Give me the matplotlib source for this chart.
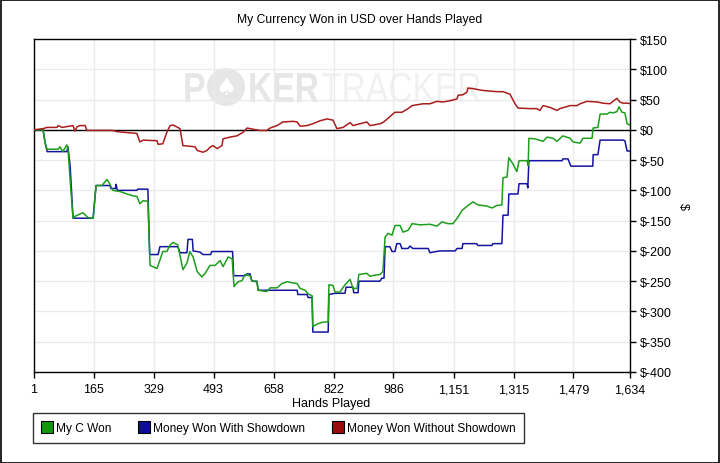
import matplotlib
matplotlib.use("Agg")
import matplotlib.pyplot as plt
from matplotlib.lines import Line2D
from matplotlib.patches import Rectangle, PathPatch, Circle
from matplotlib.textpath import TextPath
from matplotlib.font_manager import FontProperties
from matplotlib.transforms import Affine2D

plt.rcParams['font.family'] = ['Liberation Sans', 'DejaVu Sans']

# data (hands played -> cumulative $)
green_hands = [1, 26, 31, 37, 39, 67, 72, 80, 91, 94,
               102, 108, 113, 127, 135, 149, 163, 171, 187, 201,
               209, 217, 237, 256, 272, 283, 291, 300, 313, 319,
               338, 341, 354, 365, 374, 382, 395, 409, 420, 428,
               437, 448, 461, 470, 483, 497, 511, 519, 533, 544,
               549, 560, 571, 579, 593, 598, 612, 615, 639, 648,
               667, 680, 694, 722, 730, 744, 752, 763, 765, 776,
               790, 807, 809, 820, 826, 839, 853, 867, 875, 886,
               891, 913, 922, 935, 949, 957, 963, 971, 982, 990,
               1004, 1012, 1026, 1037, 1059, 1086, 1105, 1119, 1135, 1149,
               1163, 1174, 1190, 1204, 1217, 1242, 1256, 1269, 1283, 1286,
               1297, 1302, 1313, 1324, 1330, 1352, 1355, 1357, 1374, 1396,
               1407, 1423, 1434, 1450, 1470, 1478, 1497, 1505, 1530, 1533,
               1546, 1552, 1571, 1579, 1587, 1598, 1604, 1612, 1620, 1626,
               1634]
green_vals = [0, 0, -20, -33, -32, -32, -28, -36, -25, -30,
              -100, -146, -143, -139, -137, -145, -146, -92, -92, -82,
              -90, -100, -102, -106, -109, -110, -122, -117, -118, -224,
              -229, -224, -201, -201, -190, -186, -190, -231, -220, -201,
              -210, -234, -243, -237, -224, -224, -216, -226, -210, -213,
              -259, -251, -249, -239, -241, -250, -251, -265, -267, -261,
              -261, -254, -251, -254, -262, -265, -271, -274, -325, -321,
              -318, -317, -256, -257, -268, -268, -256, -247, -262, -262,
              -239, -237, -242, -240, -239, -234, -177, -171, -174, -158,
              -158, -169, -166, -155, -157, -156, -159, -152, -155, -155,
              -144, -133, -125, -119, -124, -126, -129, -125, -124, -79,
              -78, -46, -56, -69, -51, -51, -59, -14, -15, -19,
              -12, -14, -19, -10, -14, -20, -22, -14, -14, 3,
              4, 26, 26, 29, 28, 30, 38, 29, 28, 10,
              8]

blue_hands = [1, 26, 31, 37, 91, 94, 100, 108, 163, 171,
              209, 212, 224, 226, 229, 283, 285, 313, 318, 341,
              346, 395, 401, 420, 423, 435, 437, 456, 464, 485,
              488, 545, 548, 579, 585, 593, 598, 612, 615, 722,
              724, 749, 752, 763, 765, 807, 809, 826, 853, 856,
              875, 877, 889, 891, 949, 954, 960, 963, 976, 982,
              990, 995, 1004, 1009, 1026, 1031, 1039, 1081, 1086, 1094,
              1113, 1155, 1160, 1174, 1176, 1214, 1217, 1256, 1258, 1283,
              1286, 1300, 1302, 1327, 1330, 1352, 1354, 1357, 1448, 1450,
              1464, 1472, 1532, 1533, 1546, 1552, 1615, 1620, 1626, 1634]
blue_vals = [0, 0, -20, -36, -36, -28, -60, -146, -146, -92,
             -92, -97, -97, -90, -100, -100, -98, -98, -206, -206,
             -193, -193, -203, -203, -181, -181, -200, -202, -206, -206,
             -201, -201, -241, -241, -238, -238, -250, -250, -265, -265,
             -272, -272, -277, -277, -334, -334, -272, -270, -270, -260,
             -260, -269, -269, -250, -250, -245, -245, -193, -193, -201,
             -201, -188, -188, -196, -196, -192, -196, -196, -203, -202,
             -200, -200, -196, -196, -188, -188, -191, -191, -188, -188,
             -141, -141, -106, -106, -89, -89, -96, -51, -51, -48,
             -48, -60, -60, -41, -41, -17, -17, -18, -35, -35]

red_hands = [1, 26, 37, 64, 67, 78, 108, 113, 119, 127,
             141, 146, 217, 228, 283, 291, 300, 338, 341, 354,
             365, 374, 382, 401, 409, 442, 448, 464, 475, 483,
             491, 503, 516, 519, 538, 557, 574, 585, 601, 620,
             639, 648, 667, 683, 711, 722, 730, 749, 765, 785,
             804, 812, 820, 831, 848, 867, 875, 894, 913, 922,
             949, 957, 971, 990, 1009, 1026, 1037, 1067, 1086, 1105,
             1122, 1141, 1160, 1163, 1176, 1187, 1190, 1204, 1231, 1269,
             1286, 1305, 1319, 1327, 1360, 1379, 1387, 1396, 1415, 1434,
             1442, 1470, 1489, 1497, 1516, 1544, 1560, 1579, 1598, 1606,
             1615, 1628, 1634]
red_vals = [0, 2, 4, 4, 7, 4, 7, -2, 5, 7,
            7, -1, -1, -3, -6, -20, -17, -18, -24, -23,
            -4, 7, 8, 2, -26, -28, -34, -37, -34, -29,
            -26, -31, -26, -15, -12, -10, -4, 3, 1, -1,
            -1, 3, 7, 13, 14, 13, 6, 7, 10, 15,
            18, 17, 16, 2, 4, 12, 7, 10, 13, 7,
            10, 12, 19, 29, 29, 35, 40, 43, 43, 47,
            46, 48, 51, 57, 58, 62, 69, 68, 65, 63,
            63, 59, 43, 36, 35, 35, 32, 40, 37, 32,
            35, 40, 40, 43, 47, 46, 44, 43, 52, 46,
            44, 44, 43]

x_ticks = [1, 165, 329, 493, 658, 822, 986, 1151, 1315, 1479, 1634]
y_ticks = list(range(-400, 151, 50))
series_names = ["My C Won", "Money Won With Showdown", "Money Won Without Showdown"]

W, H = 720, 464
fig = plt.figure(figsize=(W / 100, H / 100), dpi=100)
fig.patch.set_facecolor("white")
ax = fig.add_axes([34 / W, 1 - 373 / H, 596 / W, 333 / H])

# watermark
wm_dark = "#e6e6e6"
wm_light = "#f1f1f1"
fp_b = FontProperties(family="Liberation Sans", weight="bold")
fp_r = FontProperties(family="Liberation Sans")
base_y = H - 103
for txt, x0, fp, col in [("P", 183, fp_b, wm_dark), ("KER", 248, fp_b, wm_dark),
                         ("TRACKER", 321, fp_r, wm_light)]:
    tp = TextPath((0, 0), txt, size=42, prop=fp)
    ax.add_patch(PathPatch(tp, transform=Affine2D().scale(0.8, 1.0).translate(x0, base_y),
                           facecolor=col, edgecolor="none", zorder=0.5))
ax.add_patch(Circle((226, H - 88), 19, transform=Affine2D(), facecolor=wm_dark,
                    edgecolor="none", zorder=0.5))
ax.text(226, H - 88, "\u2660", transform=Affine2D(), ha="center", va="center",
        fontsize=17, color="white", family="DejaVu Sans", zorder=0.6)

ax.grid(True, color="#ebebeb", linewidth=1)
ax.set_axisbelow(True)
ax.axhline(0, color="black", linewidth=1, zorder=1.5)

ax.plot(blue_hands, blue_vals, color="#1414a0", linewidth=1.1, zorder=2)
ax.plot(green_hands, green_vals, color="#1c9e1c", linewidth=1.1, zorder=3)
ax.plot(red_hands, red_vals, color="#aa1c1c", linewidth=1.1, zorder=4)

ax.set_xlim(1, 1634)
ax.set_ylim(-400, 150)
ax.set_xticks(x_ticks)
ax.set_xticklabels([f"{v:,}" for v in x_ticks])
ax.set_yticks(y_ticks)
ax.set_yticklabels([f"${v}" for v in y_ticks])
ax.yaxis.tick_right()
ax.tick_params(axis="both", direction="out", length=4, width=1, labelsize=9,
               color="black", labelcolor="black")
ax.tick_params(axis="x", pad=4)
ax.tick_params(axis="y", pad=3)
for s in ax.spines.values():
    s.set_color("black")
    s.set_linewidth(1)

fig.text(0.5, 1 - 20 / H, "My Currency Won in USD over Hands Played",
         ha="center", va="center", fontsize=8.7)
fig.text(331 / W, 1 - 404 / H, "Hands Played", ha="center", va="center", fontsize=9)
fig.text(683 / W, 1 - 207 / H, "$", ha="center", va="center", fontsize=9, rotation=270)

handles = [Line2D([], [], marker="s", linestyle="none", markersize=8,
                  markerfacecolor=c, markeredgecolor="black", markeredgewidth=0.8)
           for c in ["#109810", "#0c0c96", "#9c0c0c"]]
leg = fig.legend(handles, series_names, loc="upper left",
                 bbox_to_anchor=(33 / W, 1 - 414 / H), ncol=3, fontsize=8.6,
                 frameon=True, fancybox=False, borderaxespad=0, borderpad=0.75,
                 handlelength=0.8, handletextpad=0.35, columnspacing=2.35)
leg.get_frame().set_edgecolor("black")
leg.get_frame().set_linewidth(1)

# outer border
fig.add_artist(Rectangle((0.5 / W, 0.5 / H), 1 - 1.5 / W, 1 - 1.5 / H,
                         transform=fig.transFigure, fill=False,
                         edgecolor="black", linewidth=1.2))

fig.savefig("out.png", dpi=100)
